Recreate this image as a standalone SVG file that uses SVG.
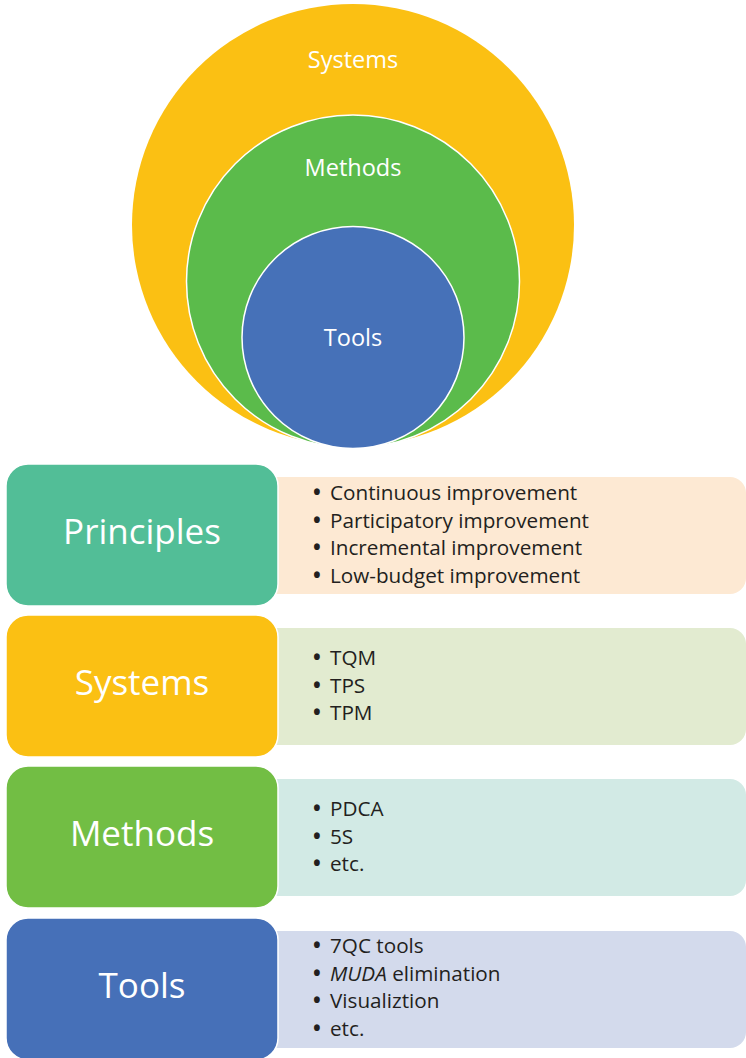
<svg xmlns="http://www.w3.org/2000/svg" width="746" height="1058" viewBox="0 0 746 1058">
<style>
.clabel{font-family:"Open Sans","Noto Sans",sans-serif;font-size:23.5px;fill:#ffffff;text-anchor:middle}
.blabel{font-family:"Open Sans","Noto Sans",sans-serif;font-size:35px;fill:#ffffff;text-anchor:middle}
.item{font-family:"Open Sans","Noto Sans",sans-serif;font-size:20.7px;fill:#231f20}
.bul{font-weight:700}
.box{stroke:#ffffff;stroke-width:1.5}
</style>
<rect width="746" height="1058" fill="#ffffff"/>
<g id="circle-systems">
<circle cx="353" cy="225" r="221" fill="#fbc013"/>
<text class="clabel" x="353" y="68">Systems</text>
</g>
<g id="circle-methods">
<circle cx="353" cy="281.5" r="166.5" fill="#5bbb4b" stroke="#ffffff" stroke-width="1.5"/>
<text class="clabel" x="353" y="176">Methods</text>
</g>
<g id="circle-tools">
<circle cx="353" cy="337.5" r="111" fill="#4671b8" stroke="#ffffff" stroke-width="1.5"/>
<text class="clabel" x="353" y="346">Tools</text>
</g>
<g id="row-principles">
<rect x="255" y="477" width="491" height="117" rx="16" fill="#fde9d3"/>
<rect class="box" x="6" y="464" width="272" height="142" rx="22" fill="#52be97"/>
<text class="blabel" x="142" y="544">Principles</text>
<text class="item" x="313" y="500"><tspan class="bul">•</tspan><tspan x="330">Continuous improvement</tspan></text>
<text class="item" x="313" y="527.5"><tspan class="bul">•</tspan><tspan x="330">Participatory improvement</tspan></text>
<text class="item" x="313" y="555"><tspan class="bul">•</tspan><tspan x="330">Incremental improvement</tspan></text>
<text class="item" x="313" y="582.5"><tspan class="bul">•</tspan><tspan x="330">Low-budget improvement</tspan></text>
</g>
<g id="row-systems">
<rect x="255" y="628" width="491" height="117" rx="16" fill="#e2ebd0"/>
<rect class="box" x="6" y="615" width="272" height="142" rx="22" fill="#fbc013"/>
<text class="blabel" x="142" y="695">Systems</text>
<text class="item" x="313" y="665"><tspan class="bul">•</tspan><tspan x="330">TQM</tspan></text>
<text class="item" x="313" y="692.5"><tspan class="bul">•</tspan><tspan x="330">TPS</tspan></text>
<text class="item" x="313" y="720"><tspan class="bul">•</tspan><tspan x="330">TPM</tspan></text>
</g>
<g id="row-methods">
<rect x="255" y="779" width="491" height="117" rx="16" fill="#d2eae5"/>
<rect class="box" x="6" y="766" width="272" height="142" rx="22" fill="#72be44"/>
<text class="blabel" x="142" y="846">Methods</text>
<text class="item" x="313" y="816"><tspan class="bul">•</tspan><tspan x="330">PDCA</tspan></text>
<text class="item" x="313" y="843.5"><tspan class="bul">•</tspan><tspan x="330">5S</tspan></text>
<text class="item" x="313" y="871"><tspan class="bul">•</tspan><tspan x="330">etc.</tspan></text>
</g>
<g id="row-tools">
<rect x="255" y="931" width="491" height="117" rx="16" fill="#d3daec"/>
<rect class="box" x="6" y="918" width="272" height="142" rx="22" fill="#4670b8"/>
<text class="blabel" x="142" y="998">Tools</text>
<text class="item" x="313" y="953"><tspan class="bul">•</tspan><tspan x="330">7QC tools</tspan></text>
<text class="item" x="313" y="980.5"><tspan class="bul">•</tspan><tspan x="330" font-style="italic">MUDA</tspan><tspan> elimination</tspan></text>
<text class="item" x="313" y="1008"><tspan class="bul">•</tspan><tspan x="330">Visualiztion</tspan></text>
<text class="item" x="313" y="1035.5"><tspan class="bul">•</tspan><tspan x="330">etc.</tspan></text>
</g>
<g id="connectors"></g>
</svg>
